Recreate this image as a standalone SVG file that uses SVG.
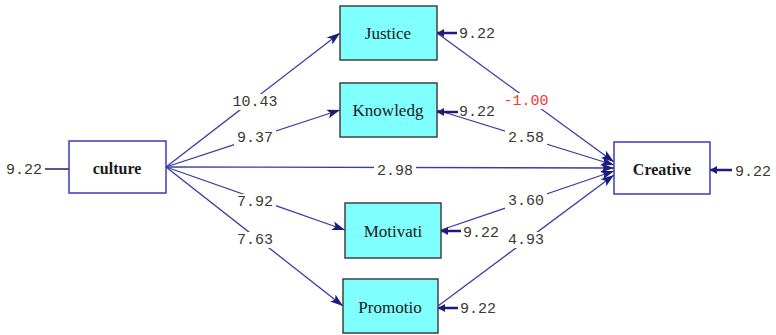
<svg xmlns="http://www.w3.org/2000/svg" width="776" height="335" viewBox="0 0 776 335">
<defs>
<marker id="ah" markerUnits="userSpaceOnUse" markerWidth="14" markerHeight="10" refX="13" refY="5" orient="auto">
<path d="M0,0.5 L13,5 L0,9.5 L3,5 Z" fill="#1c1c7a"/>
</marker>
<marker id="eh" markerUnits="userSpaceOnUse" markerWidth="8" markerHeight="8" refX="7" refY="4" orient="auto">
<path d="M0,0 L7,4 L0,8 Z" fill="#1c1c7a"/>
</marker>
</defs>
<style>
.c{stroke:#3b3ba6;stroke-width:1.3;fill:none;marker-end:url(#ah)}
.e{stroke:#1c1c7a;stroke-width:2.5;fill:none;marker-end:url(#eh)}
.bg{fill:#fff;stroke:none}
.lbl{font-family:"Liberation Mono",monospace;font-size:15px;fill:#3d3730;text-anchor:middle;dominant-baseline:central}
.red{fill:#ff3535}
.box{fill:#80ffff;stroke:#404040;stroke-width:1.5}
.obox{fill:#fff;stroke:#3a3ac0;stroke-width:1.5}
.nt{font-family:"Liberation Serif",serif;font-size:17px;fill:#1a1a1a;text-anchor:middle;dominant-baseline:central}
.bt{font-family:"Liberation Serif",serif;font-size:16px;font-weight:bold;fill:#1a1a1a;text-anchor:middle;dominant-baseline:central}
.el{font-family:"Liberation Mono",monospace;font-size:15px;fill:#3d3730;dominant-baseline:central}
</style>
<g id="connectors">
<line class="c" x1="166" y1="167" x2="340" y2="33"/>
<line class="c" x1="166" y1="167" x2="340" y2="110"/>
<line class="c" x1="166" y1="167" x2="614" y2="168"/>
<line class="c" x1="166" y1="167" x2="345" y2="230"/>
<line class="c" x1="166" y1="167" x2="343" y2="306"/>
<line class="c" x1="437" y1="33" x2="614" y2="162"/>
<line class="c" x1="437" y1="110" x2="614" y2="165"/>
<line class="c" x1="441" y1="230" x2="614" y2="171"/>
<line class="c" x1="438" y1="306" x2="614" y2="175"/>
<line x1="45" y1="169" x2="69" y2="169" stroke="#1c1c7a" stroke-width="1.5"/>
<line class="e" x1="457" y1="33" x2="437" y2="33"/>
<line class="e" x1="458" y1="112" x2="437" y2="112"/>
<line class="e" x1="461" y1="231" x2="441" y2="231"/>
<line class="e" x1="458" y1="308" x2="438" y2="308"/>
<line class="e" x1="732" y1="170" x2="710" y2="170"/>
<rect class="bg" x="229" y="94" width="52" height="16"/>
<rect class="bg" x="234" y="130" width="42" height="16"/>
<rect class="bg" x="374" y="163" width="42" height="16"/>
<rect class="bg" x="234" y="194" width="42" height="16"/>
<rect class="bg" x="234" y="232" width="42" height="16"/>
<rect class="bg" x="500" y="93" width="52" height="16"/>
<rect class="bg" x="505" y="130" width="42" height="16"/>
<rect class="bg" x="505" y="193" width="42" height="16"/>
<rect class="bg" x="505" y="232" width="42" height="16"/>
<text class="lbl" x="255" y="102">10.43</text>
<text class="lbl" x="255" y="138">9.37</text>
<text class="lbl" x="395" y="171">2.98</text>
<text class="lbl" x="255" y="202">7.92</text>
<text class="lbl" x="255" y="240">7.63</text>
<text class="lbl red" x="526" y="101">-1.00</text>
<text class="lbl" x="526" y="138">2.58</text>
<text class="lbl" x="526" y="201">3.60</text>
<text class="lbl" x="526" y="240">4.93</text>
</g>
<g id="culture">
<rect class="obox" x="69" y="141" width="97" height="52"/>
<text class="bt" x="117" y="168">culture</text>
<text class="el" x="6" y="170">9.22</text>
</g>
<g id="justice">
<rect class="box" x="340" y="6" width="97" height="54"/>
<text class="nt" x="388" y="33">Justice</text>
<text class="el" x="459" y="34">9.22</text>
</g>
<g id="knowledg">
<rect class="box" x="340" y="83" width="97" height="54"/>
<text class="nt" x="388" y="110">Knowledg</text>
<text class="el" x="459" y="112">9.22</text>
</g>
<g id="motivati">
<rect class="box" x="345" y="203" width="96" height="55"/>
<text class="nt" x="393" y="231">Motivati</text>
<text class="el" x="463" y="233">9.22</text>
</g>
<g id="promotio">
<rect class="box" x="343" y="279" width="95" height="54"/>
<text class="nt" x="390" y="307">Promotio</text>
<text class="el" x="460" y="309">9.22</text>
</g>
<g id="creative">
<rect class="obox" x="614" y="142" width="96" height="52"/>
<text class="bt" x="662" y="169">Creative</text>
<text class="el" x="735" y="172">9.22</text>
</g>
</svg>
